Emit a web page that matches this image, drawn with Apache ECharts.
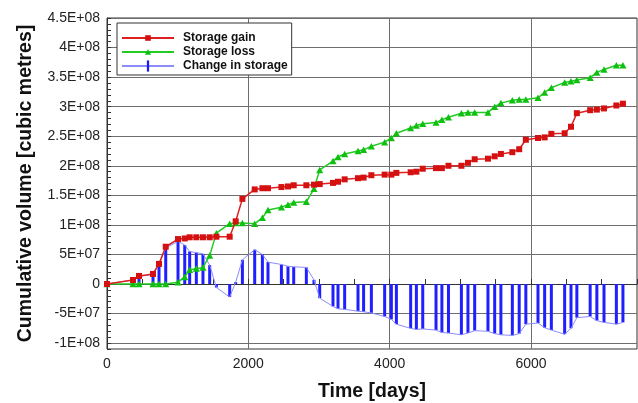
<!DOCTYPE html>
<html>
<head>
<meta charset="utf-8">
<script src="https://cdn.jsdelivr.net/npm/echarts@6/dist/echarts.min.js"></script>
<style>
  html, body { margin: 0; padding: 0; background: #fff; }
  #main { width: 638px; height: 403px; }
</style>
</head>
<body>
<div id="main"></div>
<script>
// time of each survey (days)
const days = [0, 368, 453, 651, 736, 831, 1005, 1100, 1170, 1264,
  1358, 1453, 1548, 1736, 1821, 1916, 2090, 2199, 2278, 2468,
  2561, 2642, 2821, 2929, 3010, 3198, 3269, 3363, 3552, 3631,
  3741, 3929, 4024, 4095, 4297, 4378, 4468, 4656, 4739, 4832,
  5015, 5108, 5203, 5391, 5486, 5574, 5736, 5833, 5927, 6099,
  6193, 6288, 6476, 6566, 6649, 6837, 6932, 7033, 7208, 7301];

// cumulative volumes (cubic metres)
const storageGain = [0, 6.8e6, 1.36e7, 1.7e7, 3.4e7, 6.3e7, 7.6e7, 7.7e7, 7.9e7, 7.9e7,
  7.9e7, 7.9e7, 8.0e7, 8.0e7, 1.06e8, 1.44e8, 1.60e8, 1.62e8, 1.62e8, 1.64e8,
  1.65e8, 1.67e8, 1.67e8, 1.68e8, 1.69e8, 1.71e8, 1.73e8, 1.77e8, 1.79e8, 1.80e8,
  1.84e8, 1.85e8, 1.85e8, 1.88e8, 1.89e8, 1.90e8, 1.95e8, 1.96e8, 1.96e8, 2.0e8,
  2.0e8, 2.05e8, 2.11e8, 2.12e8, 2.16e8, 2.2e8, 2.23e8, 2.28e8, 2.44e8, 2.47e8,
  2.48e8, 2.54e8, 2.55e8, 2.66e8, 2.89e8, 2.94e8, 2.95e8, 2.97e8, 3.02e8, 3.05e8];

const storageLoss = [0, 0, 0, 0, 0, 0, 3e6, 1.2e7, 2.4e7, 2.6e7,
  2.8e7, 4.8e7, 8.6e7, 1.02e8, 1.03e8, 1.03e8, 1.02e8, 1.12e8, 1.25e8, 1.30e8,
  1.34e8, 1.38e8, 1.39e8, 1.61e8, 1.93e8, 2.08e8, 2.15e8, 2.2e8, 2.25e8, 2.27e8,
  2.33e8, 2.40e8, 2.47e8, 2.55e8, 2.64e8, 2.68e8, 2.71e8, 2.73e8, 2.78e8, 2.82e8,
  2.89e8, 2.90e8, 2.90e8, 2.90e8, 3.0e8, 3.06e8, 3.11e8, 3.12e8, 3.12e8, 3.15e8,
  3.24e8, 3.32e8, 3.41e8, 3.43e8, 3.45e8, 3.49e8, 3.58e8, 3.63e8, 3.70e8, 3.70e8];

const storageChange = [0, 6.8e6, 1.3e7, 1.6e7, 3.3e7, 6.1e7, 7.2e7, 6.6e7, 5.5e7, 5.3e7,
  5.1e7, 3.2e7, -6e6, -2.2e7, 3e6, 4.1e7, 5.8e7, 5.0e7, 3.7e7, 3.3e7,
  3.0e7, 2.9e7, 2.8e7, 7e6, -2.4e7, -3.8e7, -4.2e7, -4.3e7, -4.6e7, -4.7e7,
  -4.9e7, -5.5e7, -6.0e7, -6.8e7, -7.5e7, -7.7e7, -7.6e7, -7.8e7, -8.2e7, -8.3e7,
  -8.6e7, -8.3e7, -7.9e7, -8.0e7, -8.4e7, -8.6e7, -8.7e7, -8.4e7, -6.8e7, -6.6e7,
  -7.4e7, -7.8e7, -8.5e7, -7.5e7, -5.7e7, -5.5e7, -6.2e7, -6.5e7, -6.8e7, -6.5e7];

const xTickLabels = [0, 2000, 4000, 6000];
const yTickLabels = [-1e8, -5e7, 0, 5e7, 1e8, 1.5e8, 2e8, 2.5e8, 3e8, 3.5e8, 4e8, 4.5e8];

// 4.5E+08 style
function sci(v) {
  if (v === 0) return '0';
  const e = Math.floor(Math.log10(Math.abs(v)) + 1e-9);
  const m = +(v / Math.pow(10, e)).toFixed(2);
  return m + 'E+' + String(e).padStart(2, '0');
}

const none = 'rgba(0,0,0,0)';
const gridCol = '#6e6e6e';
const font = 'Liberation Sans';

const chart = echarts.init(document.getElementById('main'));

const option = {
  backgroundColor: '#fff',
  animation: false,
  grid: {
    left: 107, right: 1, top: 18, bottom: 54,
    outerBoundsMode: 'none',
    show: true, borderColor: '#333', borderWidth: 1
  },
  legend: {
    left: 117, top: 23,
    orient: 'vertical',
    data: ['Storage gain', 'Storage loss', 'Change in storage'],
    itemWidth: 52, itemHeight: 14, itemGap: 2,
    padding: [9, 4, 3, 4],
    borderColor: '#333', borderWidth: 1,
    backgroundColor: '#fff',
    textStyle: { fontFamily: font, fontSize: 12, fontWeight: 'bold', color: '#111', padding: [0, 0, 0, 4] }
  },
  xAxis: {
    type: 'value',
    min: 0, max: 7500, interval: 500,
    name: 'Time [days]',
    nameLocation: 'middle', nameGap: 33,
    nameTextStyle: { fontFamily: font, fontSize: 19.5, fontWeight: 'bold', color: '#111' },
    axisLine: { show: true, lineStyle: { color: '#333' } },
    axisTick: { inside: true, length: 5, lineStyle: { color: '#333' } },
    axisLabel: {
      margin: 8, fontFamily: font, fontSize: 14, color: '#222',
      formatter: v => xTickLabels.some(t => Math.abs(t - v) < 1e-6) ? String(v) : ''
    },
    splitLine: { show: true, lineStyle: { color: [gridCol, none, none, none], width: 1 } }
  },
  yAxis: {
    type: 'value',
    min: -1.1e8, max: 4.5e8, interval: 1e7,
    name: 'Cumulative volume [cubic metres]',
    nameLocation: 'middle', nameGap: 71, nameRotate: 90,
    nameTextStyle: { fontFamily: font, fontSize: 19.5, fontWeight: 'bold', color: '#111' },
    axisLine: { show: true, lineStyle: { color: '#333' } },
    axisTick: { inside: true, length: 4, lineStyle: { color: '#333' } },
    axisLabel: {
      margin: 7, fontFamily: font, fontSize: 14, color: '#222',
      formatter: v => yTickLabels.some(t => Math.abs(t - v) < 1) ? sci(v) : ''
    },
    splitLine: { show: true, lineStyle: { color: [none, gridCol, none, none, none], width: 1 } }
  },
  series: [
    {
      name: 'Change in storage',
      type: 'line',
      data: days.map((d, i) => [d, storageChange[i]]),
      showSymbol: false,
      symbol: 'path://M0,0M10,10M4,0H6V10H4Z',
      lineStyle: { color: '#8c8cff', width: 1 },
      itemStyle: { color: '#1a1aff' },
      z: 2
    },
    {
      name: 'Change in storage',
      type: 'bar',
      data: days.map((d, i) => [d, storageChange[i]]),
      barWidth: 3,
      itemStyle: { color: '#1f1fff' },
      z: 2
    },
    {
      name: 'Storage loss',
      type: 'line',
      data: days.map((d, i) => [d, storageLoss[i]]),
      symbol: 'path://M0,0M12,12M6,3L9.3,9H2.7Z',
      symbolSize: 13,
      lineStyle: { color: '#22cc22', width: 1.5 },
      itemStyle: { color: '#10c010' },
      z: 3
    },
    {
      name: 'Storage gain',
      type: 'line',
      data: days.map((d, i) => [d, storageGain[i]]),
      symbol: 'path://M0,0M12,12M3,3H9V9H3Z',
      symbolSize: 12,
      lineStyle: { color: '#dd2020', width: 1.5 },
      itemStyle: { color: '#d41010' },
      z: 4
    }
  ]
};

chart.setOption(option);
</script>
</body>
</html>
